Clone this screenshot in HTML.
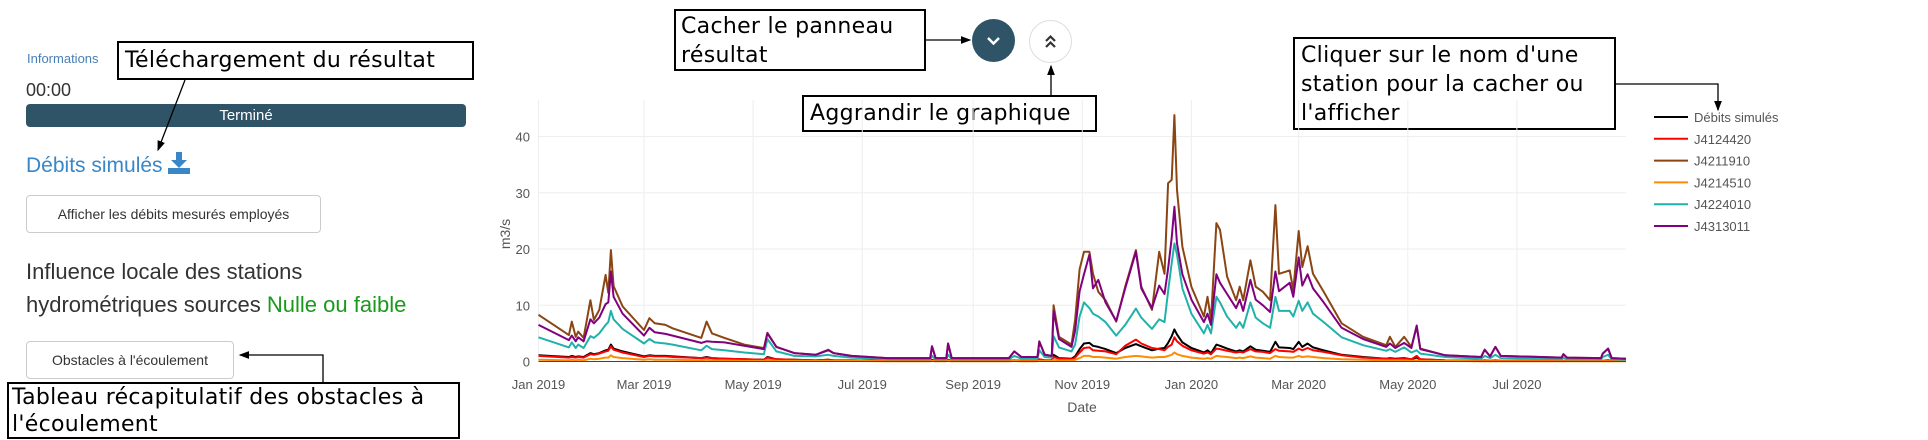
<!DOCTYPE html>
<html><head><meta charset="utf-8">
<style>
body{margin:0;width:1928px;height:440px;overflow:hidden;background:#fff;font-family:"Liberation Sans",sans-serif;position:relative}
.a{position:absolute}
.btn{position:absolute;border:1px solid #ccc;border-radius:4px;background:#fff;color:#333;font-size:14px;display:flex;align-items:center;justify-content:center;box-sizing:border-box}
.note{position:absolute;border:2px solid #000;background:#fff;font-family:"DejaVu Sans",sans-serif;color:#000;box-sizing:border-box;padding:0 6px;white-space:nowrap;font-size:22px;letter-spacing:0.3px}
</style></head><body>
<div class="a" style="left:27px;top:51px;font-size:13px;color:#4a7fb5">Informations</div>
<div class="a" style="left:26px;top:80px;font-size:18px;color:#333">00:00</div>
<div class="a" style="left:26px;top:104px;width:440px;height:23px;background:#2f5468;border-radius:4px;color:#fff;font-size:15px;text-align:center;line-height:23px">Terminé</div>
<div class="a" style="left:26px;top:152px;font-size:21px;color:#3a87c8">Débits simulés <svg width="22" height="22" viewBox="0 0 22 22" style="vertical-align:-2px"><path d="M8 0h6v8h5l-8 8-8-8h5z" fill="#3a87c8"/><rect x="0" y="16" width="22" height="6" fill="#3a87c8"/></svg></div>
<div class="btn" style="left:26px;top:195px;width:295px;height:38px">Afficher les débits mesurés employés</div>
<div class="a" style="left:26px;top:255px;font-size:22px;color:#333;line-height:33px">Influence locale des stations<br>hydrométriques sources <span style="color:#1a9a1a">Nulle ou faible</span></div>
<div class="btn" style="left:26px;top:341px;width:208px;height:38px">Obstacles à l'écoulement</div>

<div class="note" style="left:117px;top:41px;width:357px;height:39px;line-height:35px">Téléchargement du résultat</div>
<div class="note" style="left:7px;top:382px;width:453px;height:57px;line-height:27px;padding:0 3px">Tableau récapitulatif des obstacles à<br>l'écoulement</div>
<div class="note" style="left:674px;top:9px;width:252px;height:62px;line-height:29px;padding:1px 5px">Cacher le panneau<br>résultat</div>
<div class="note" style="left:802px;top:95px;width:295px;height:37px;line-height:33px">Aggrandir le graphique</div>
<div class="note" style="left:1293px;top:37px;width:323px;height:93px;line-height:29px;padding:2px 6px">Cliquer sur le nom d'une<br>station pour la cacher ou<br>l'afficher</div>

<div class="a" style="left:972px;top:19px;width:43px;height:43px;border-radius:50%;background:#2f5468"><svg width="43" height="43"><path d="M16 19l5.5 5.5 5.5-5.5" stroke="#fff" stroke-width="2.5" fill="none"/></svg></div>
<div class="a" style="left:1029px;top:20px;width:43px;height:43px;border-radius:50%;border:1px solid #ddd;box-sizing:border-box;background:#fff"><svg width="41" height="41"><path d="M16 20l4.5-4.5 4.5 4.5M16 26l4.5-4.5 4.5 4.5" stroke="#333" stroke-width="2.2" fill="none"/></svg></div>

<svg class="a" id="chart" style="left:0;top:0" width="1928" height="440">
<defs><marker id="ar" markerWidth="8" markerHeight="8" refX="7" refY="4" orient="auto"><path d="M0 1L8 4L0 7z" fill="#000"/></marker></defs>
<g id="grid"></g><g id="series"></g><g id="axes"></g>
<g stroke="#000" stroke-width="1.3" fill="none">
<path d="M185 80L158 150" marker-end="url(#ar)"/>
<path d="M323 382V355H240" marker-end="url(#ar)"/>
<path d="M926 40H970" marker-end="url(#ar)"/>
<path d="M1051 95V66" marker-end="url(#ar)"/>
<path d="M1616 84H1718V110" marker-end="url(#ar)"/>
</g>
</svg>
<script>
const days=[0,17,18.6,20.8,22.2,25.2,29,31,34,37.5,39,40.5,42,47,59,62,65,71,75,91,94,97,104,115,126,128,133,143,155,162,165,175,195,219,220,222,228,229,231,263,266,270,279,280,283,287,288,291,298,300,302.5,305,308,310,313,317,323,328,334,337,343,347,350,352,354,355.5,357,360,365,372,374,376,379,381,385,390,392,394,398,401,405,409,412,414,420,422,425,427,430,433,439,449,461,474,476,479,484,488,491,493,507,527,529,532,535,538,572,573,575,594,595,598,600,608];
const simulated=[1.1,0.8,1.0,0.8,0.9,0.8,1.5,1.3,1.5,2.0,2.1,3.0,2.3,1.8,0.9,1.1,1.0,1.0,0.9,0.6,0.8,0.6,0.5,0.4,0.3,0.8,0.4,0.3,0.2,0.3,0.2,0.2,0.1,0.1,0.3,0.1,0.1,0.3,0.1,0.1,0.2,0.1,0.1,0.4,0.2,0.2,1.2,0.6,0.5,0.9,2.2,3.2,3.3,2.8,2.6,2.2,1.5,2.4,3.1,2.7,2.0,2.3,2.4,3.3,4.5,5.7,4.8,3.4,2.4,1.6,2.0,1.5,3.0,2.8,2.3,1.8,2.0,1.8,2.7,2.1,1.9,1.7,3.5,2.5,2.4,2.2,3.5,2.6,3.2,2.5,2.0,1.2,0.8,0.5,0.6,0.5,0.6,0.4,0.7,0.4,0.2,0.1,0.2,0.1,0.2,0.1,0.1,0.1,0.1,0.1,0.1,0.2,0.1,0.1];
const j4124420=[1.0,0.7,0.8,0.7,0.8,0.7,1.3,1.2,1.4,1.8,1.9,2.7,2.1,1.6,0.8,1.0,0.9,0.9,0.8,0.6,0.7,0.6,0.5,0.4,0.3,0.7,0.4,0.3,0.2,0.3,0.2,0.2,0.1,0.1,0.2,0.1,0.1,0.3,0.1,0.1,0.2,0.1,0.1,0.4,0.2,0.2,0.8,0.5,0.4,0.7,1.6,2.4,2.5,2.0,1.9,1.8,1.3,2.8,3.9,3.2,2.4,2.2,2.0,2.6,3.0,4.3,3.6,2.8,2.0,1.4,1.6,1.3,2.3,2.2,1.9,1.6,1.7,1.6,2.2,1.8,1.7,1.5,2.2,1.9,1.8,1.7,2.3,2.0,2.4,2.0,1.7,1.1,0.7,0.5,0.5,0.4,0.5,0.4,1.0,0.4,0.2,0.1,0.2,0.1,0.2,0.1,0.1,0.1,0.1,0.1,0.1,0.1,0.1,0.1];
const j4211910=[8.3,4.7,7.1,4.4,5.3,4.2,10.9,7.4,9.2,15.4,12.2,19.8,13.4,9.8,5.6,7.7,6.8,6.5,5.9,4.2,7.1,5.0,4.2,3.0,2.4,5.1,2.6,1.5,1.2,2.1,1.5,1.0,0.6,0.6,2.7,0.6,0.6,3.2,0.6,0.6,1.8,0.8,0.8,3.6,1.2,1.0,10.0,4.4,3.0,7.4,16.4,19.5,19.5,15.6,12.4,10.9,7.1,13.3,19.8,13.3,9.2,19.5,15.6,31.7,32.3,43.8,30.5,20.4,13.3,8.0,11.5,7.4,24.6,23.4,15.1,10.9,13.3,10.9,18.0,13.3,12.4,10.9,27.8,15.6,16.2,12.7,23.2,16.8,20.5,15.6,12.4,6.8,4.4,2.9,4.4,2.6,4.4,2.6,6.2,2.3,1.1,0.8,2.1,0.9,2.6,1.0,0.7,1.3,0.7,0.6,1.4,2.3,0.6,0.5];
const j4214510=[0.3,0.2,0.3,0.2,0.3,0.2,0.5,0.4,0.5,0.7,0.7,1.1,0.8,0.6,0.3,0.4,0.3,0.3,0.3,0.2,0.3,0.2,0.2,0.1,0.1,0.3,0.1,0.1,0.1,0.1,0.1,0.1,0.05,0.05,0.1,0.05,0.05,0.1,0.05,0.05,0.1,0.05,0.05,0.1,0.1,0.1,0.3,0.2,0.2,0.3,0.6,1.0,1.0,0.8,0.8,0.7,0.5,0.8,1.0,0.9,0.7,0.8,0.8,1.0,1.2,1.6,1.3,1.0,0.7,0.5,0.6,0.5,1.0,0.9,0.8,0.6,0.7,0.6,0.9,0.7,0.6,0.5,1.0,0.8,0.7,0.7,1.0,0.8,0.9,0.8,0.6,0.4,0.3,0.2,0.2,0.2,0.2,0.1,0.2,0.1,0.1,0.05,0.05,0.05,0.05,0.05,0.05,0.05,0.05,0.05,0.05,0.05,0.05,0.05];
const j4224010=[4.3,2.5,3.4,2.4,3.0,2.4,4.5,4.2,5.0,6.5,7.0,9.0,7.5,5.8,3.2,4.0,3.4,3.2,3.0,2.0,2.8,2.2,2.0,1.6,1.3,4.0,1.8,1.0,0.9,1.2,1.0,0.7,0.4,0.4,1.0,0.4,0.4,1.2,0.4,0.4,1.0,0.5,0.5,2.0,0.8,0.7,4.5,2.5,1.8,3.0,8.0,10.5,9.5,8.5,8.0,7.0,4.6,6.5,9.4,7.8,5.8,7.5,7.0,12.5,17.5,21.0,19.0,13.0,8.5,5.0,6.5,5.0,11.5,10.5,8.0,6.0,7.0,6.0,10.5,7.8,6.8,6.0,11.5,9.0,9.0,8.0,10.8,9.0,10.5,8.5,7.0,4.3,2.9,1.9,2.2,1.7,2.5,1.6,2.0,1.4,0.8,0.5,1.0,0.6,1.2,0.6,0.4,0.7,0.4,0.4,0.8,1.2,0.4,0.3];
const j4313011=[6.5,3.8,4.6,3.6,4.3,3.6,7.5,6.8,7.8,10.2,10.5,16.0,11.5,8.5,4.6,6.0,5.2,4.9,4.6,3.3,3.6,3.5,3.4,2.8,2.2,5.0,2.6,1.5,1.2,2.0,1.5,1.0,0.6,0.6,2.7,0.6,0.6,3.2,0.6,0.6,1.8,0.8,0.8,3.5,1.2,1.0,9.0,4.0,2.6,5.5,12.5,15.5,19.0,13.0,14.5,10.5,7.2,13.0,19.5,13.0,9.5,13.5,12.0,16.5,22.0,27.5,21.0,15.5,11.0,7.0,8.5,6.5,15.5,14.0,12.0,9.5,11.0,9.0,14.5,11.0,10.0,8.8,16.0,12.5,14.0,11.5,18.5,13.5,15.5,13.0,10.5,6.0,4.0,2.6,3.2,2.4,3.3,2.4,6.4,2.2,1.1,0.8,2.1,0.9,2.6,1.0,0.7,1.3,0.7,0.6,1.4,2.3,0.6,0.5];
const seriesNames=["Débits simulés","J4124420","J4211910","J4214510","J4224010","J4313011"];
const yTicks=[0,10,20,30,40];
const xTickLabels=["Jan 2019","Mar 2019","May 2019","Jul 2019","Sep 2019","Nov 2019","Jan 2020","Mar 2020","May 2020","Jul 2020"];
const xTickDays=[0,59,120,181,243,304,365,425,486,547];

const NS="http://www.w3.org/2000/svg";
const X0=538.5,X1=1626,D0=0,D1=608,Y0=361.5,YK=5.625,TOP=100;
const xs=d=>X0+(d-D0)*(X1-X0)/(D1-D0);
const ys=v=>Y0-v*YK;
function mk(t,a,p){const e=document.createElementNS(NS,t);for(const k in a)e.setAttribute(k,a[k]);p.appendChild(e);return e;}
const grid=document.getElementById('grid'),axes=document.getElementById('axes'),ser=document.getElementById('series');
yTicks.forEach(v=>{
 if(v>0){const l=mk('line',{x1:X0,x2:X1,y1:ys(v),y2:ys(v),stroke:'#eee','stroke-width':1},grid);
 
 }
 const t=mk('text',{x:530,y:ys(v)+5,'text-anchor':'end','font-size':13,fill:'#555','font-family':'Liberation Sans, sans-serif'},axes);
 t.textContent=v;
 
 
});
xTickDays.forEach((d,i)=>{
 const l=mk('line',{x1:xs(d),x2:xs(d),y1:TOP,y2:Y0,stroke:'#eee','stroke-width':1},grid);
 
 
 const t=mk('text',{x:xs(d),y:389,'text-anchor':'middle','font-size':13,fill:'#555','font-family':'Liberation Sans, sans-serif'},axes);
 t.textContent=xTickLabels[i];
 
 
});
const zl=mk('line',{x1:X0,x2:X1,y1:Y0,y2:Y0,stroke:'#444','stroke-width':1},axes);


const yt=mk('text',{x:0,y:0,transform:'translate(510,234) rotate(-90)','text-anchor':'middle','font-size':14,fill:'#555','font-family':'Liberation Sans, sans-serif'},axes);
yt.textContent='m3/s';


const xt=mk('text',{x:1082,y:412,'text-anchor':'middle','font-size':14,fill:'#555','font-family':'Liberation Sans, sans-serif'},axes);
xt.textContent='Date';



const data=[simulated,j4124420,j4211910,j4214510,j4224010,j4313011];
const colors=['#000','#ff0000','#8b4513','#ff8c00','#20b2aa','#800080'];
const order=[0,1,3,4,2,5];
order.forEach(i=>{
 const d=days.map((x,k)=>(k?'L':'M')+xs(x).toFixed(1)+' '+ys(data[i][k]).toFixed(1)).join('');
 const p=mk('path',{d:d,fill:'none',stroke:colors[i],'stroke-width':2,'stroke-linejoin':'round'},ser);
 
 
});
seriesNames.forEach((n,i)=>{
 const y=117+i*21.8;
 const g=mk('g',{},axes);
 
 
 mk('line',{x1:1654,x2:1688,y1:y,y2:y,stroke:colors[i],'stroke-width':2},g);
 const t=mk('text',{x:1694,y:y+5,'font-size':13,fill:'#555','font-family':'Liberation Sans, sans-serif'},g);
 t.textContent=n;
});
</script>
</body></html>
